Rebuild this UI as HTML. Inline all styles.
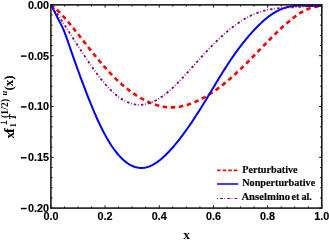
<!DOCTYPE html>
<html><head><meta charset="utf-8"><style>
html,body{margin:0;padding:0;background:#fff;}
svg{display:block;will-change:transform;opacity:0.999}
.sans{font-family:"Liberation Sans",sans-serif;font-weight:bold;font-size:10.8px;fill:#000}
.serif{font-family:"Liberation Serif",serif;font-weight:bold;fill:#000}
</style></head><body>
<svg width="329" height="240" viewBox="0 0 329 240">
<rect width="329" height="240" fill="#fff"/>
<g fill="none" stroke-linejoin="round">
<path d="M51.00,4.90 L52.23,5.84 L53.47,6.84 L54.70,7.88 L55.93,8.97 L57.16,10.10 L58.40,11.28 L59.63,12.50 L60.86,13.76 L62.10,15.05 L63.33,16.38 L64.56,17.74 L65.79,19.13 L67.03,20.55 L68.26,22.00 L69.49,23.46 L70.73,24.95 L71.96,26.46 L73.19,27.98 L74.42,29.52 L75.66,31.07 L76.89,32.63 L78.12,34.20 L79.36,35.78 L80.59,37.35 L81.82,38.93 L83.05,40.51 L84.29,42.09 L85.52,43.66 L86.75,45.23 L87.99,46.80 L89.22,48.36 L90.45,49.92 L91.68,51.46 L92.92,53.00 L94.15,54.53 L95.38,56.05 L96.62,57.56 L97.85,59.06 L99.08,60.54 L100.32,62.01 L101.55,63.46 L102.78,64.90 L104.01,66.32 L105.25,67.72 L106.48,69.10 L107.71,70.47 L108.95,71.81 L110.18,73.12 L111.41,74.42 L112.64,75.69 L113.88,76.93 L115.11,78.15 L116.34,79.35 L117.58,80.53 L118.81,81.68 L120.04,82.80 L121.27,83.90 L122.51,84.98 L123.74,86.03 L124.97,87.06 L126.21,88.07 L127.44,89.05 L128.67,90.00 L129.90,90.94 L131.14,91.85 L132.37,92.73 L133.60,93.59 L134.84,94.43 L136.07,95.24 L137.30,96.03 L138.53,96.79 L139.77,97.53 L141.00,98.25 L142.23,98.94 L143.47,99.61 L144.70,100.25 L145.93,100.87 L147.16,101.46 L148.40,102.03 L149.63,102.57 L150.86,103.08 L152.10,103.57 L153.33,104.03 L154.56,104.46 L155.79,104.87 L157.03,105.24 L158.26,105.59 L159.49,105.91 L160.73,106.20 L161.96,106.45 L163.19,106.68 L164.42,106.88 L165.66,107.05 L166.89,107.18 L168.12,107.29 L169.36,107.36 L170.59,107.40 L171.82,107.41 L173.05,107.38 L174.29,107.32 L175.52,107.23 L176.75,107.11 L177.99,106.96 L179.22,106.78 L180.45,106.57 L181.68,106.33 L182.92,106.06 L184.15,105.77 L185.38,105.44 L186.62,105.09 L187.85,104.72 L189.08,104.31 L190.32,103.88 L191.55,103.43 L192.78,102.95 L194.01,102.45 L195.25,101.92 L196.48,101.37 L197.71,100.80 L198.95,100.20 L200.18,99.59 L201.41,98.95 L202.64,98.29 L203.88,97.61 L205.11,96.91 L206.34,96.19 L207.58,95.46 L208.81,94.70 L210.04,93.92 L211.27,93.12 L212.51,92.30 L213.74,91.47 L214.97,90.61 L216.21,89.74 L217.44,88.85 L218.67,87.94 L219.90,87.01 L221.14,86.07 L222.37,85.11 L223.60,84.13 L224.84,83.13 L226.07,82.12 L227.30,81.09 L228.53,80.05 L229.77,78.99 L231.00,77.91 L232.23,76.82 L233.47,75.71 L234.70,74.59 L235.93,73.46 L237.16,72.31 L238.40,71.15 L239.63,69.98 L240.86,68.79 L242.10,67.60 L243.33,66.39 L244.56,65.18 L245.79,63.96 L247.03,62.73 L248.26,61.49 L249.49,60.25 L250.73,59.00 L251.96,57.74 L253.19,56.48 L254.42,55.22 L255.66,53.95 L256.89,52.68 L258.12,51.41 L259.36,50.14 L260.59,48.86 L261.82,47.58 L263.05,46.31 L264.29,45.04 L265.52,43.76 L266.75,42.50 L267.99,41.23 L269.22,39.98 L270.45,38.72 L271.68,37.48 L272.92,36.24 L274.15,35.02 L275.38,33.80 L276.62,32.60 L277.85,31.40 L279.08,30.22 L280.32,29.06 L281.55,27.91 L282.78,26.77 L284.01,25.66 L285.25,24.56 L286.48,23.48 L287.71,22.42 L288.95,21.38 L290.18,20.36 L291.41,19.37 L292.64,18.40 L293.88,17.45 L295.11,16.53 L296.34,15.65 L297.58,14.79 L298.81,13.96 L300.04,13.17 L301.27,12.41 L302.51,11.69 L303.74,11.00 L304.97,10.36 L306.21,9.76 L307.44,9.20 L308.67,8.68 L309.90,8.21 L311.14,7.79 L312.37,7.42 L313.60,7.09 L314.84,6.82 L316.07,6.60 L317.30,6.44 L318.53,6.34 L319.77,6.29 L321.00,6.30" stroke="#ff0000" stroke-width="2.6" stroke-dasharray="4.5 3.62" stroke-dashoffset="0.51"/>
<path d="M51.00,4.90 L52.24,7.20 L53.47,9.64 L54.71,12.14 L55.94,14.65 L57.18,17.10 L58.41,19.45 L59.65,21.77 L60.88,24.16 L62.12,26.68 L63.35,29.44 L64.59,32.47 L65.82,35.72 L67.06,39.13 L68.29,42.65 L69.53,46.23 L70.76,49.81 L72.00,53.37 L73.23,56.90 L74.47,60.41 L75.70,63.90 L76.94,67.36 L78.17,70.78 L79.41,74.18 L80.64,77.55 L81.88,80.89 L83.11,84.19 L84.35,87.46 L85.58,90.69 L86.82,93.88 L88.05,97.04 L89.29,100.15 L90.53,103.21 L91.76,106.23 L93.00,109.19 L94.23,112.10 L95.47,114.95 L96.70,117.74 L97.94,120.47 L99.17,123.14 L100.41,125.74 L101.64,128.26 L102.88,130.72 L104.11,133.10 L105.35,135.40 L106.58,137.62 L107.82,139.76 L109.05,141.82 L110.29,143.80 L111.52,145.70 L112.76,147.52 L113.99,149.26 L115.23,150.92 L116.46,152.51 L117.70,154.01 L118.93,155.44 L120.17,156.79 L121.40,158.06 L122.64,159.25 L123.87,160.37 L125.11,161.41 L126.34,162.37 L127.58,163.26 L128.82,164.07 L130.05,164.80 L131.29,165.46 L132.52,166.03 L133.76,166.54 L134.99,166.96 L136.23,167.32 L137.46,167.59 L138.70,167.79 L139.93,167.91 L141.17,167.96 L142.40,167.94 L143.64,167.83 L144.87,167.66 L146.11,167.40 L147.34,167.08 L148.58,166.68 L149.81,166.22 L151.05,165.68 L152.28,165.09 L153.52,164.42 L154.75,163.70 L155.99,162.92 L157.22,162.08 L158.46,161.18 L159.69,160.23 L160.93,159.23 L162.16,158.18 L163.40,157.08 L164.63,155.94 L165.87,154.75 L167.11,153.52 L168.34,152.25 L169.58,150.95 L170.81,149.60 L172.05,148.23 L173.28,146.81 L174.52,145.37 L175.75,143.89 L176.99,142.38 L178.22,140.84 L179.46,139.27 L180.69,137.67 L181.93,136.05 L183.16,134.39 L184.40,132.71 L185.63,131.00 L186.87,129.26 L188.10,127.50 L189.34,125.72 L190.57,123.91 L191.81,122.08 L193.04,120.23 L194.28,118.36 L195.51,116.47 L196.75,114.55 L197.98,112.62 L199.22,110.67 L200.45,108.71 L201.69,106.72 L202.92,104.73 L204.16,102.72 L205.39,100.70 L206.63,98.67 L207.87,96.63 L209.10,94.59 L210.34,92.55 L211.57,90.50 L212.81,88.45 L214.04,86.41 L215.28,84.37 L216.51,82.33 L217.75,80.30 L218.98,78.28 L220.22,76.27 L221.45,74.27 L222.69,72.29 L223.92,70.33 L225.16,68.38 L226.39,66.45 L227.63,64.54 L228.86,62.66 L230.10,60.80 L231.33,58.96 L232.57,57.16 L233.80,55.38 L235.04,53.63 L236.27,51.90 L237.51,50.20 L238.74,48.53 L239.98,46.88 L241.21,45.27 L242.45,43.68 L243.68,42.11 L244.92,40.58 L246.16,39.07 L247.39,37.58 L248.63,36.13 L249.86,34.70 L251.10,33.30 L252.33,31.93 L253.57,30.59 L254.80,29.27 L256.04,27.98 L257.27,26.72 L258.51,25.49 L259.74,24.29 L260.98,23.12 L262.21,21.98 L263.45,20.87 L264.68,19.80 L265.92,18.77 L267.15,17.77 L268.39,16.81 L269.62,15.88 L270.86,15.00 L272.09,14.15 L273.33,13.35 L274.56,12.59 L275.80,11.87 L277.03,11.19 L278.27,10.56 L279.50,9.96 L280.74,9.41 L281.97,8.90 L283.21,8.43 L284.45,7.99 L285.68,7.60 L286.92,7.24 L288.15,6.92 L289.39,6.64 L290.62,6.39 L291.86,6.18 L293.09,6.00 L294.33,5.86 L295.56,5.75 L296.80,5.67 L298.03,5.62 L299.27,5.60 L300.50,5.60 L301.74,5.61 L302.97,5.65 L304.21,5.69 L305.44,5.74 L306.68,5.80 L307.91,5.87 L309.15,5.93 L310.38,5.98 L311.62,6.04 L312.85,6.08 L314.09,6.10 L315.32,6.11 L316.56,6.10 L317.79,6.07 L319.03,6.01 L320.26,5.92 L321.50,5.80" stroke="#0000ff" stroke-width="2.0"/>
<path d="M51.00,4.90 L52.24,6.64 L53.47,8.40 L54.71,10.18 L55.94,11.99 L57.18,13.80 L58.41,15.64 L59.65,17.49 L60.88,19.35 L62.12,21.22 L63.35,23.11 L64.59,25.00 L65.82,26.90 L67.06,28.81 L68.29,30.73 L69.53,32.65 L70.76,34.57 L72.00,36.50 L73.23,38.43 L74.47,40.36 L75.70,42.28 L76.94,44.21 L78.17,46.13 L79.41,48.04 L80.64,49.95 L81.88,51.85 L83.11,53.74 L84.35,55.63 L85.58,57.50 L86.82,59.35 L88.05,61.19 L89.29,63.02 L90.53,64.82 L91.76,66.60 L93.00,68.36 L94.23,70.10 L95.47,71.81 L96.70,73.49 L97.94,75.15 L99.17,76.77 L100.41,78.36 L101.64,79.91 L102.88,81.43 L104.11,82.92 L105.35,84.36 L106.58,85.76 L107.82,87.12 L109.05,88.43 L110.29,89.70 L111.52,90.92 L112.76,92.09 L113.99,93.21 L115.23,94.28 L116.46,95.30 L117.70,96.27 L118.93,97.19 L120.17,98.06 L121.40,98.88 L122.64,99.64 L123.87,100.36 L125.11,101.02 L126.34,101.63 L127.58,102.19 L128.82,102.69 L130.05,103.14 L131.29,103.54 L132.52,103.89 L133.76,104.18 L134.99,104.42 L136.23,104.60 L137.46,104.73 L138.70,104.80 L139.93,104.82 L141.17,104.78 L142.40,104.69 L143.64,104.54 L144.87,104.34 L146.11,104.08 L147.34,103.78 L148.58,103.42 L149.81,103.02 L151.05,102.56 L152.28,102.06 L153.52,101.51 L154.75,100.92 L155.99,100.28 L157.22,99.60 L158.46,98.88 L159.69,98.11 L160.93,97.31 L162.16,96.47 L163.40,95.58 L164.63,94.67 L165.87,93.71 L167.11,92.72 L168.34,91.70 L169.58,90.65 L170.81,89.56 L172.05,88.44 L173.28,87.30 L174.52,86.12 L175.75,84.92 L176.99,83.70 L178.22,82.45 L179.46,81.19 L180.69,79.90 L181.93,78.59 L183.16,77.27 L184.40,75.94 L185.63,74.59 L186.87,73.23 L188.10,71.87 L189.34,70.49 L190.57,69.11 L191.81,67.72 L193.04,66.34 L194.28,64.95 L195.51,63.56 L196.75,62.17 L197.98,60.79 L199.22,59.41 L200.45,58.04 L201.69,56.67 L202.92,55.32 L204.16,53.98 L205.39,52.65 L206.63,51.33 L207.87,50.02 L209.10,48.73 L210.34,47.45 L211.57,46.18 L212.81,44.92 L214.04,43.68 L215.28,42.46 L216.51,41.25 L217.75,40.06 L218.98,38.88 L220.22,37.72 L221.45,36.58 L222.69,35.46 L223.92,34.35 L225.16,33.27 L226.39,32.20 L227.63,31.15 L228.86,30.13 L230.10,29.12 L231.33,28.14 L232.57,27.18 L233.80,26.24 L235.04,25.33 L236.27,24.43 L237.51,23.56 L238.74,22.71 L239.98,21.89 L241.21,21.09 L242.45,20.31 L243.68,19.56 L244.92,18.83 L246.16,18.12 L247.39,17.44 L248.63,16.79 L249.86,16.15 L251.10,15.55 L252.33,14.97 L253.57,14.41 L254.80,13.88 L256.04,13.37 L257.27,12.89 L258.51,12.44 L259.74,12.01 L260.98,11.61 L262.21,11.24 L263.45,10.89 L264.68,10.56 L265.92,10.26 L267.15,9.99 L268.39,9.73 L269.62,9.49 L270.86,9.27 L272.09,9.07 L273.33,8.89 L274.56,8.72 L275.80,8.57 L277.03,8.42 L278.27,8.29 L279.50,8.17 L280.74,8.06 L281.97,7.96 L283.21,7.87 L284.45,7.78 L285.68,7.70 L286.92,7.62 L288.15,7.54 L289.39,7.46 L290.62,7.39 L291.86,7.31 L293.09,7.23 L294.33,7.15 L295.56,7.07 L296.80,6.99 L298.03,6.91 L299.27,6.83 L300.50,6.75 L301.74,6.68 L302.97,6.61 L304.21,6.54 L305.44,6.47 L306.68,6.41 L307.91,6.35 L309.15,6.30 L310.38,6.25 L311.62,6.22 L312.85,6.18 L314.09,6.16 L315.32,6.14 L316.56,6.14 L317.79,6.14 L319.03,6.15 L320.26,6.17 L321.50,6.20" stroke="#800080" stroke-width="1.8" stroke-dasharray="2.4 1.85 0.7 2.18" stroke-dashoffset="3.8"/>
</g>
<path d="M50.90,208.1 v-2.8 M50.90,4.85 v2.8 M64.44,208.1 v-1.75 M64.44,4.85 v1.75 M77.99,208.1 v-1.75 M77.99,4.85 v1.75 M91.53,208.1 v-1.75 M91.53,4.85 v1.75 M105.08,208.1 v-2.8 M105.08,4.85 v2.8 M118.62,208.1 v-1.75 M118.62,4.85 v1.75 M132.17,208.1 v-1.75 M132.17,4.85 v1.75 M145.72,208.1 v-1.75 M145.72,4.85 v1.75 M159.26,208.1 v-2.8 M159.26,4.85 v2.8 M172.81,208.1 v-1.75 M172.81,4.85 v1.75 M186.35,208.1 v-1.75 M186.35,4.85 v1.75 M199.90,208.1 v-1.75 M199.90,4.85 v1.75 M213.44,208.1 v-2.8 M213.44,4.85 v2.8 M226.99,208.1 v-1.75 M226.99,4.85 v1.75 M240.53,208.1 v-1.75 M240.53,4.85 v1.75 M254.08,208.1 v-1.75 M254.08,4.85 v1.75 M267.62,208.1 v-2.8 M267.62,4.85 v2.8 M281.17,208.1 v-1.75 M281.17,4.85 v1.75 M294.71,208.1 v-1.75 M294.71,4.85 v1.75 M308.25,208.1 v-1.75 M308.25,4.85 v1.75 M321.80,208.1 v-2.8 M321.80,4.85 v2.8 M50.9,4.85 h2.8 M321.8,4.85 h-2.8 M50.9,15.01 h1.75 M321.8,15.01 h-1.75 M50.9,25.17 h1.75 M321.8,25.17 h-1.75 M50.9,35.34 h1.75 M321.8,35.34 h-1.75 M50.9,45.50 h1.75 M321.8,45.50 h-1.75 M50.9,55.66 h2.8 M321.8,55.66 h-2.8 M50.9,65.83 h1.75 M321.8,65.83 h-1.75 M50.9,75.99 h1.75 M321.8,75.99 h-1.75 M50.9,86.15 h1.75 M321.8,86.15 h-1.75 M50.9,96.31 h1.75 M321.8,96.31 h-1.75 M50.9,106.47 h2.8 M321.8,106.47 h-2.8 M50.9,116.64 h1.75 M321.8,116.64 h-1.75 M50.9,126.80 h1.75 M321.8,126.80 h-1.75 M50.9,136.96 h1.75 M321.8,136.96 h-1.75 M50.9,147.12 h1.75 M321.8,147.12 h-1.75 M50.9,157.29 h2.8 M321.8,157.29 h-2.8 M50.9,167.45 h1.75 M321.8,167.45 h-1.75 M50.9,177.61 h1.75 M321.8,177.61 h-1.75 M50.9,187.78 h1.75 M321.8,187.78 h-1.75 M50.9,197.94 h1.75 M321.8,197.94 h-1.75 M50.9,208.10 h2.8 M321.8,208.10 h-2.8" stroke="#222" stroke-width="1" fill="none"/>
<rect x="50.9" y="4.85" width="270.90000000000003" height="203.25" fill="none" stroke="#1c1c1c" stroke-width="1.6"/>
<g class="sans" stroke="#000" stroke-width="0.15"><text x="50.90" y="220.3" text-anchor="middle">0.0</text><text x="105.08" y="220.3" text-anchor="middle">0.2</text><text x="159.26" y="220.3" text-anchor="middle">0.4</text><text x="213.44" y="220.3" text-anchor="middle">0.6</text><text x="267.62" y="220.3" text-anchor="middle">0.8</text><text x="321.80" y="220.3" text-anchor="middle">1.0</text><text x="49.0" y="8.85" text-anchor="end">0.00</text><text x="49.0" y="59.66" text-anchor="end">0.05</text><path d="M20.9,56.11 h5.7" stroke="#000" stroke-width="1.5"/><text x="49.0" y="110.47" text-anchor="end">0.10</text><path d="M20.9,106.92 h5.7" stroke="#000" stroke-width="1.5"/><text x="49.0" y="161.29" text-anchor="end">0.15</text><path d="M20.9,157.74 h5.7" stroke="#000" stroke-width="1.5"/><text x="49.0" y="212.10" text-anchor="end">0.20</text><path d="M20.9,208.55 h5.7" stroke="#000" stroke-width="1.5"/></g>
<text class="serif" x="186.7" y="238.9" text-anchor="middle" font-size="13.5">x</text>
<!-- legend -->
<g fill="none">
<path d="M217.1,170.4 H237.3" stroke="#ff0000" stroke-width="1.9" stroke-dasharray="3.45 2.15"/>
<path d="M217,184 H238.2" stroke="#0000ff" stroke-width="1.5"/>
<path d="M217.0,198.5 H237.2" stroke="#800080" stroke-width="1.2" stroke-dasharray="0.8 2.2 2.9 1.4"/>
</g>
<g class="serif" font-size="10.2" stroke="#000" stroke-width="0.15">
<text x="242.2" y="172.8">Perturbative</text>
<text x="242.2" y="186.3">Nonperturbative</text>
<text x="241.4" y="200.3" textLength="48.8" lengthAdjust="spacingAndGlyphs">Anselmino</text><text x="291.4" y="200.3">et</text><text x="301.4" y="200.3">al.</text>
</g>
<!-- y label -->
<g transform="translate(13.8,138.4) rotate(-90)" class="serif">
<text x="0" y="0" font-size="13">x</text>
<text x="5.5" y="0" font-size="14.5">f</text>
<text x="10.8" y="2.2" font-size="9">1</text>
<text x="18.6" y="2.2" font-size="9.4" font-style="italic">T</text>
<path d="M13.7,-7.2 H17.8 M15.75,-7.2 V-13.3" stroke="#000" stroke-width="0.9" fill="none"/>
<text x="20.3" y="-6.0" font-size="9.4" letter-spacing="0.25">(1/2)</text>
<text x="42.8" y="-7.0" font-size="8.5" font-style="italic">u</text>
<text x="47.9" y="-0.5" font-size="13">(x)</text>
</g>
</svg>
</body></html>
